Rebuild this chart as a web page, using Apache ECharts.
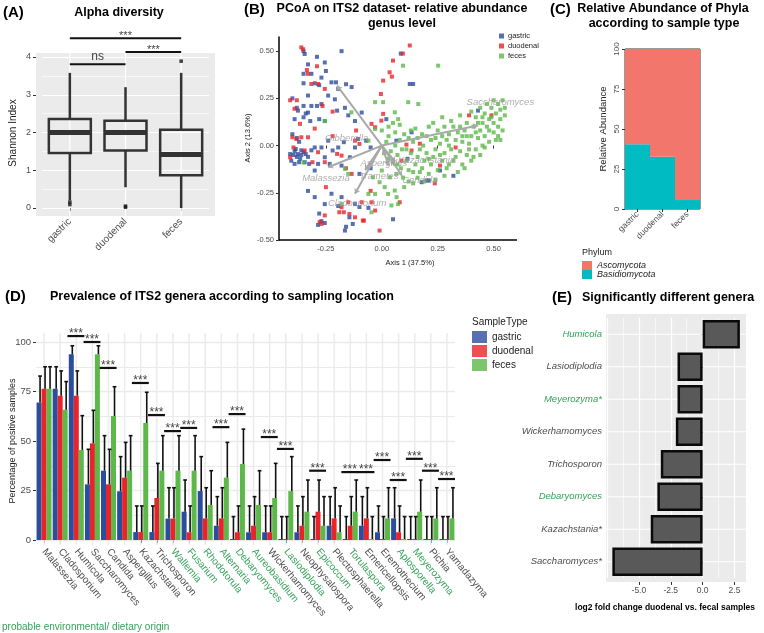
<!DOCTYPE html>
<html>
<head>
<meta charset="utf-8">
<script src="https://cdn.jsdelivr.net/npm/echarts@6/dist/echarts.min.js"></script>
<style>
  html, body { margin: 0; padding: 0; background: #fff; }
  #chart { width: 764px; height: 633px; }
</style>
</head>
<body>
<div id="chart"></div>
<script>
const FONT = '"Liberation Sans", Arial, Helvetica, sans-serif';
const BLUE = '#2c4c9d', RED = '#e8232a', GREEN = '#5db84a';
const TXT_GREY = '#4d4d4d', ENV_GREEN = '#35a35a';
const BAR_GAP = 0.07;

// (A) alpha diversity
const alphaGroups = ['gastric', 'duodenal', 'feces'];
// low whisker, Q1, median, Q3, high whisker
const alphaBoxes = [
  [0.21, 1.46, 2.0, 2.36, 3.58],
  [0.55, 1.52, 2.0, 2.31, 3.2],
  [0.0, 0.87, 1.42, 2.07, 3.58],
];
const alphaOutliers = [[0, 0.16], [0, 0.09], [1, 0.02], [1, 0.05], [2, 3.89]];
const alphaSigFrom = [0, 1, 0];
const alphaSigTo = [1, 2, 2];
const alphaSigY = [3.81, 4.13, 4.5];
const alphaSigText = ['ns', '***', '***'];

// (B) PCoA
const pcoaGastric = [
  [-0.35,0.50],[-0.345,0.485],[-0.33,0.43],[-0.29,0.47],[-0.255,0.44],[-0.25,0.395],[-0.315,0.38],[-0.35,0.38],[-0.27,0.36],[-0.18,0.50],
  [-0.35,0.33],[-0.30,0.33],[-0.28,0.32],[-0.225,0.335],[-0.205,0.335],[-0.16,0.325],[-0.135,0.31],[-0.195,0.30],[-0.33,0.265],[-0.24,0.265],
  [-0.21,0.245],[-0.27,0.22],[-0.315,0.21],[-0.29,0.21],[-0.35,0.21],[-0.40,0.25],[-0.38,0.20],[-0.375,0.185],[-0.34,0.17],[-0.33,0.175],
  [-0.39,0.14],[-0.35,0.15],[-0.32,0.13],[-0.28,0.14],[-0.255,0.13],[-0.20,0.185],[-0.165,0.20],[-0.12,0.13],[-0.09,0.175],[-0.15,0.16],
  [-0.41,-0.045],[-0.395,-0.05],[-0.39,-0.03],[-0.38,-0.06],[-0.375,-0.045],[-0.365,-0.07],[-0.36,-0.05],[-0.35,-0.035],[-0.37,-0.088],[-0.39,-0.097],
  [-0.345,-0.088],[-0.33,-0.06],[-0.315,-0.025],[-0.30,-0.01],[-0.405,-0.08],[-0.385,-0.018],[-0.36,-0.025],[-0.34,-0.045],[-0.325,-0.097],[-0.37,0.02],
  [-0.40,0.06],[-0.38,0.04],[-0.27,-0.01],[-0.24,0.026],[-0.255,-0.062],[-0.22,-0.026],[-0.195,-0.01],[-0.17,0.018],[-0.285,-0.097],[-0.30,-0.132],
  [-0.233,-0.097],[-0.18,-0.106],[-0.143,-0.062],[-0.12,-0.01],[-0.106,0.035],[-0.07,0.026],[-0.05,-0.01],[-0.10,-0.15],[-0.05,-0.12],
  [-0.33,-0.24],[-0.30,-0.273],[-0.255,-0.31],[-0.28,-0.36],[-0.27,-0.40],[-0.255,-0.41],[-0.285,-0.42],[-0.18,-0.273],[-0.165,-0.45],[-0.16,-0.43],
  [-0.145,-0.38],[-0.13,-0.415],[-0.12,-0.31],[-0.10,-0.325],[-0.195,-0.32],[-0.225,-0.255],[-0.06,-0.33],
  [0.085,0.487],[0.125,0.326],[0.14,0.326],[0.133,0.07],[0.2,-0.185],[0.178,-0.194],[0.43,0.185],[0.05,-0.39],[0.065,0.026],[0.115,-0.07],
  [0.26,-0.132],[0.21,-0.185],[0.02,0.14],[0.32,-0.16]
];
const pcoaDuodenal = [
  [-0.36,0.52],[-0.352,0.51],[-0.29,0.42],[-0.335,0.40],[-0.33,0.38],[-0.285,0.326],[-0.255,0.30],[-0.315,0.326],[-0.38,0.24],[-0.41,0.24],
  [-0.39,0.195],[-0.366,0.115],[-0.40,0.044],[-0.395,-0.01],[-0.41,-0.062],[-0.382,0.035],[-0.36,0.044],[-0.33,0.044],[-0.285,-0.035],[-0.31,-0.088],
  [-0.255,-0.088],[-0.345,-0.026],[-0.20,-0.044],[-0.18,-0.053],[-0.12,0.026],[-0.10,0.009],[-0.135,-0.15],[-0.115,0.08],[-0.046,0.115],[-0.03,0.097],
  [0.05,0.45],[0.094,0.487],[0.125,0.53],[0.045,0.365],[0.035,0.388],[0.006,0.344],[-0.004,0.273],[0.006,0.168],[-0.002,0.132],[0.11,0.005],
  [0.133,-0.026],[-0.25,-0.22],[-0.18,-0.326],[-0.19,-0.353],[-0.17,-0.353],[-0.145,-0.362],[-0.12,-0.38],[-0.085,-0.397],[-0.08,-0.397],[-0.255,-0.37],
  [-0.278,-0.405],[-0.27,-0.415],[-0.15,-0.30],[-0.09,-0.30],[-0.045,-0.30],[-0.01,-0.45],[-0.03,-0.344],[0.237,-0.2],[0.26,-0.106],[0.08,-0.30],
  [0.088,-0.08],[0.33,-0.01],[0.39,0.16],[0.49,0.16],[-0.22,0.05],[-0.16,-0.12],[-0.22,0.18],[-0.05,-0.24],[0.17,0.01],[-0.265,0.21],[-0.3,0.09]
];
const pcoaFeces = [
  [-0.35,-0.09],[-0.255,0.13],[-0.136,0.176],[-0.03,0.23],[0.006,0.23],[-0.165,-0.123],[-0.15,-0.15],[-0.18,-0.31],[-0.06,-0.256],[-0.046,-0.353],
  [-0.03,-0.256],[0.013,-0.22],[0.028,-0.256],[0.058,-0.238],[0.066,-0.273],[0.073,-0.31],[0.043,-0.317],[0.095,0.423],[0.252,0.423],[0.058,0.176],
  [0.073,0.14],[0.118,0.23],[0.163,0.22],[-0.03,0.088],[-0.06,0.026],[-0.04,-0.168],[-0.01,-0.194],[0.0,-0.132],[0.036,-0.168],
  [0.02,0.02],[0.04,-0.03],[0.03,0.05],[0.06,0.0],[0.07,-0.05],[0.05,-0.09],[0.08,0.03],[0.09,-0.02],[0.1,0.06],[0.11,-0.08],
  [0.085,-0.12],[0.065,-0.15],[0.095,-0.17],[0.12,-0.13],[0.13,-0.04],[0.14,0.02],[0.15,-0.1],[0.16,-0.06],[0.13,0.08],[0.16,0.04],
  [0.17,-0.02],[0.18,-0.12],[0.19,-0.08],[0.2,-0.04],[0.185,0.0],[0.2,0.05],[0.21,-0.15],[0.22,-0.1],[0.23,-0.06],[0.24,-0.02],
  [0.22,0.03],[0.25,0.08],[0.26,0.01],[0.27,-0.08],[0.25,-0.13],[0.28,-0.04],[0.29,0.03],[0.3,-0.1],[0.3,0.06],[0.31,-0.02],
  [0.32,0.1],[0.33,-0.06],[0.33,0.03],[0.34,0.07],[0.35,-0.03],[0.36,0.02],[0.36,-0.1],[0.37,0.08],[0.38,-0.05],[0.38,0.12],
  [0.39,0.01],[0.4,0.05],[0.4,-0.08],[0.41,0.1],[0.42,-0.02],[0.42,0.15],[0.43,0.04],[0.44,0.08],[0.44,-0.05],[0.45,0.12],
  [0.45,0.0],[0.46,0.17],[0.46,0.05],[0.47,0.1],[0.48,0.02],[0.48,0.14],[0.49,0.2],[0.5,0.07],[0.5,0.12],[0.51,0.17],
  [0.51,0.03],[0.52,0.22],[0.52,0.1],[0.53,0.14],[0.53,0.19],[0.54,0.08],[0.54,0.24],[0.55,0.16],[0.55,0.2],[0.35,0.16],
  [0.31,0.13],[0.28,0.1],[0.23,0.12],[0.27,0.15],[0.4,0.18],[0.44,0.2],[0.47,0.22],[0.5,0.24],[0.49,0.15],[0.41,-0.06],
  [0.37,-0.12],[0.34,-0.14],[0.28,-0.16],[0.24,-0.18],[0.19,-0.19],[0.16,-0.17],[0.14,-0.2],[0.12,-0.19],[0.1,-0.22],[0.07,-0.1],
  [0.03,-0.07],[0.01,-0.04],[0.0,0.08],[0.03,0.1],[0.06,0.07],[0.12,0.04],[0.15,0.09],[0.18,0.06],[0.21,0.1],[0.26,-0.05],
  [0.29,-0.12],[0.32,-0.08],[0.35,0.1],[0.38,0.05],[0.43,0.12],[0.46,-0.01],[0.52,0.05],[0.48,0.08],[0.17,-0.14],[0.21,-0.07],
  [0.24,0.04],[0.11,-0.02],[0.08,0.11],[0.05,0.12],[0.14,-0.14],[0.36,0.05],[0.3,0.0],[0.27,0.05],[0.39,-0.02],[0.42,0.07],
  [0.45,0.15],[0.53,0.03]
];
const loadingGenera = ['Gibberella', 'Malassezia', 'Cladosporium', 'Trametes', 'Aspergillus', 'Kazachstania', 'Candida', 'Saccharomyces'];
const loadingTips = [[-0.2,0.317],[-0.24,-0.115],[-0.12,-0.255],[-0.075,-0.13],[0.03,-0.105],[0.06,-0.085],[0.09,-0.16],[0.43,0.106]];
const loadingLabelPos = [[-0.157,0.037],[-0.25,-0.175],[-0.11,-0.307],[-0.013,-0.164],[0.009,-0.095],[0.2,-0.08],[0.17,-0.185],[0.53,0.228]];

// (C) phyla
const phylaGroups = ['gastric', 'duodenal', 'feces'];
const basidiomycota = [40.4, 32.7, 5.6];
const ascomycota = [59.6, 67.3, 94.4];

// (D) prevalence
const genera = ['Malassezia','Cladosporium','Humicola','Saccharomyces','Candida','Aspergillus','Kazachstania','Trichosporon',
  'Wallemia','Fusarium','Rhodotorula','Alternaria','Debaryomyces','Aureobasidium','Wickerhamomyces','Lasiodiplodia',
  'Neophysalospora','Epicoccum','Plectosphaerella','Torulaspora','Emericellopsis','Eremothecium','Aplosporella','Meyerozyma','Pichia','Yamadazyma'];
const envGenera = ['Wallemia','Fusarium','Rhodotorula','Alternaria','Debaryomyces','Aureobasidium','Lasiodiplodia','Epicoccum','Torulaspora','Aplosporella','Meyerozyma'];
const gastricPct = [69.4, 76.4, 93.8, 28.1, 35.0, 24.6, 4.0, 4.0, 10.8, 14.3, 24.7, 7.2, 0.5, 3.9, 3.9, 0.5, 3.9, 0.5, 7.2, 0.5, 7.2, 3.9, 10.9, 0.5, 0.5, 0.5];
const gastricUpper = [82.8, 87.5, 98.1, 45.8, 52.7, 42.1, 17.2, 17.2, 26.4, 30.3, 42.1, 21.9, 11.8, 17.2, 17.2, 11.8, 17.2, 11.8, 21.9, 11.8, 21.9, 17.2, 26.4, 11.8, 11.8, 11.8];
const duodenalPct = [76.4, 72.9, 72.9, 48.8, 28.1, 31.5, 4.0, 21.2, 10.8, 3.9, 10.9, 10.9, 3.9, 7.2, 3.9, 0.5, 7.2, 14.3, 10.9, 7.2, 10.9, 0.5, 3.9, 0.5, 0.5, 0.5];
const duodenalUpper = [87.5, 85.4, 85.4, 65.5, 45.8, 49.3, 17.2, 38.7, 26.4, 17.2, 26.4, 26.4, 17.2, 21.9, 17.2, 11.8, 21.9, 30.3, 26.4, 21.9, 26.4, 11.8, 17.2, 11.8, 11.8, 11.8];
const fecesPct = [76.4, 65.8, 45.5, 93.8, 62.6, 35.0, 59.1, 35.0, 35.0, 35.0, 17.7, 31.5, 38.4, 17.7, 21.2, 24.7, 14.3, 7.2, 3.9, 14.3, 0.5, 10.9, 0.5, 14.3, 10.9, 10.9];
const fecesUpper = [87.5, 80.0, 62.8, 98.1, 77.4, 52.7, 74.6, 52.7, 52.7, 52.7, 35.0, 49.3, 56.0, 35.0, 38.7, 42.1, 30.3, 21.9, 17.2, 30.3, 11.8, 26.4, 11.8, 30.3, 26.4, 26.4];
const sigGenera = ['Humicola','Saccharomyces','Candida','Kazachstania','Trichosporon','Wallemia','Fusarium','Alternaria','Debaryomyces',
  'Wickerhamomyces','Lasiodiplodia','Epicoccum','Torulaspora','Emericellopsis','Eremothecium','Aplosporella','Meyerozyma','Pichia','Yamadazyma'];
const sigHeight = [103, 100, 86.9, 79.3, 63.1, 55, 56.6, 57, 63.6, 52, 46, 35, 34.3, 34.3, 40.4, 30.3, 41, 35, 30.8];

// (E) log2 fold change, bottom to top
const diffGenera = ['Saccharomyces*','Kazachstania*','Debaryomyces','Trichosporon','Wickerhamomyces','Meyerozyma*','Lasiodiplodia','Humicola'];
const diffLog2FC = [-7.08, -4.07, -3.55, -3.28, -2.1, -1.97, -1.97, 2.92];
const diffGreen = ['Debaryomyces', 'Meyerozyma*', 'Humicola'];

const chart = echarts.init(document.getElementById('chart'));

function txt(text, x, y, size, opts) {
  const o = opts || {};
  return {
    type: 'text', x, y, z: 50, silent: true, rotation: o.vertical ? Math.PI / 2 : 0,
    style: {
      text, fill: o.color || '#000',
      font: `${o.italic ? 'italic ' : ''}${o.bold ? 'bold ' : ''}${size}px ${FONT}`,
      align: o.align || 'left', verticalAlign: 'middle'
    }
  };
}

function vGrid(color, width, extTop, extBottom) {
  return function (params, api) {
    const cs = params.coordSys;
    const x = api.coord([api.value(0), 0])[0];
    return { type: 'line', silent: true, shape: { x1: x, y1: cs.y - extTop, x2: x, y2: cs.y + cs.height + extBottom },
      style: { stroke: color, lineWidth: width } };
  };
}

// whiskers and heavy median; the box body itself is a boxplot series
function renderWhisker(params, api) {
  const i = api.value(0);
  const lo = api.coord([i, api.value(1)]);
  const q1 = api.coord([i, api.value(2)]);
  const med = api.coord([i, api.value(3)]);
  const q3 = api.coord([i, api.value(4)]);
  const hi = api.coord([i, api.value(5)]);
  const w = api.size([1, 0])[0] * 0.75;
  const x = lo[0];
  const seg = (x1, y1, x2, y2, lw) => ({ type: 'line', shape: { x1, y1, x2, y2 }, style: { stroke: '#333', lineWidth: lw } });
  return { type: 'group', children: [
    seg(x, lo[1], x, q1[1], 2.5),
    seg(x, q3[1], x, hi[1], 2.5),
    seg(x - w / 2, med[1], x + w / 2, med[1], 5),
  ]};
}

function renderAlphaSig(params, api) {
  const a = api.coord([api.value(0), api.value(2)]);
  const b = api.coord([api.value(1), api.value(2)]);
  const label = alphaSigText[params.dataIndex];
  return { type: 'group', children: [
    { type: 'line', shape: { x1: a[0], y1: a[1], x2: b[0], y2: b[1] }, style: { stroke: '#111', lineWidth: 2 } },
    { type: 'text', x: (a[0] + b[0]) / 2, y: a[1] + (label === 'ns' ? -1 : 3),
      style: { text: label, fill: '#444', font: `${label === 'ns' ? 12 : 11}px ${FONT}`, align: 'center', verticalAlign: 'bottom' } },
  ]};
}

function errorBar(slot) {
  return function (params, api) {
    const band = api.size([1, 0])[0];
    const w = band * (1 - BAR_GAP) / 3;
    const base = api.coord([api.value(0), api.value(1)]);
    const top = api.coord([api.value(0), api.value(2)]);
    const x = base[0] + (slot - 1) * w + w * 0.2;
    const cap = w * 0.75;
    const st = { stroke: '#111', lineWidth: 1.6 };
    return { type: 'group', children: [
      { type: 'line', shape: { x1: x, y1: base[1], x2: x, y2: top[1] }, style: st },
      { type: 'line', shape: { x1: x - cap / 2, y1: top[1], x2: x + cap / 2, y2: top[1] }, style: st },
    ]};
  };
}

function renderSig(params, api) {
  const band = api.size([1, 0])[0];
  const p = api.coord([api.value(0), api.value(1)]);
  const x1 = p[0] - band * 0.55, x2 = p[0] + band * 0.5;
  return { type: 'group', children: [
    { type: 'line', shape: { x1, y1: p[1], x2, y2: p[1] }, style: { stroke: '#111', lineWidth: 2.2 } },
    { type: 'text', x: (x1 + x2) / 2, y: p[1] + 4,
      style: { text: '***', fill: '#444', font: `12px ${FONT}`, align: 'center', verticalAlign: 'bottom' } },
  ]};
}

function hGrid(params, api) {
  const cs = params.coordSys;
  const y = api.coord([0, api.value(1)])[1];
  return { type: 'line', silent: true, shape: { x1: cs.x - 1, y1: y, x2: cs.x + cs.width + 1, y2: y },
    style: { stroke: '#fff', lineWidth: 1.2 } };
}

const tick = (len) => ({ show: true, length: len, lineStyle: { color: '#333', width: 1 } });
const noLine = { show: false };

const option = {
  animation: false,
  textStyle: { fontFamily: FONT },
  grid: [
    { left: 42, top: 57, width: 167, height: 151, outerBoundsMode: 'none', containLabel: false },
    { left: 270, top: 37, width: 246, height: 203, outerBoundsMode: 'none', containLabel: false },
    { left: 625, top: 49, width: 75, height: 160, show: true, borderColor: '#333', borderWidth: 1, backgroundColor: 'transparent', outerBoundsMode: 'none', containLabel: false },
    { left: 36, top: 342, width: 419, height: 198, outerBoundsMode: 'none', containLabel: false },
    { left: 607, top: 318, width: 139, height: 260, outerBoundsMode: 'none', containLabel: false },
  ],
  xAxis: [
    { gridIndex: 0, type: 'category', data: alphaGroups, offset: 8, axisLine: noLine, axisTick: Object.assign(tick(3), { alignWithLabel: true }),
      axisLabel: { rotate: 45, interval: 0, color: TXT_GREY, fontSize: 10, margin: 4 }, splitLine: noLine, splitArea: noLine },
    { gridIndex: 1, type: 'value', min: -0.5, max: 0.6, interval: 0.25, axisLine: noLine,
      axisTick: tick(3), axisLabel: { color: TXT_GREY, fontSize: 7.5, margin: 5, showMinLabel: false, showMaxLabel: false,
        formatter: (v) => v.toFixed(2) }, splitLine: noLine },
    { gridIndex: 2, type: 'category', data: phylaGroups, axisLine: noLine, axisTick: Object.assign(tick(3), { alignWithLabel: true }),
      axisLabel: { rotate: 45, interval: 0, color: TXT_GREY, fontSize: 8.5, margin: 4 }, splitLine: noLine },
    { gridIndex: 3, type: 'category', data: genera, offset: 5, axisLine: noLine, axisTick: Object.assign(tick(3), { alignWithLabel: true }),
      axisLabel: { rotate: -50, interval: 0, margin: 5, fontSize: 10,
        formatter: (v) => envGenera.includes(v) ? `{env|${v}}` : `{std|${v}}`,
        rich: { env: { color: ENV_GREEN, fontSize: 10 }, std: { color: TXT_GREY, fontSize: 10 } } },
      splitLine: noLine },
    { gridIndex: 4, type: 'value', min: -7.5, max: 3.4, interval: 2.5, offset: 4, axisLine: noLine, axisTick: tick(3),
      axisLabel: { color: TXT_GREY, fontSize: 8.5, margin: 4, showMinLabel: false, showMaxLabel: false, formatter: (v) => v.toFixed(1) },
      splitLine: { show: true, lineStyle: { color: '#fff', width: 1.2 } },
      minorTick: { show: false, splitNumber: 2 }, minorSplitLine: { show: true, lineStyle: { color: '#fff', width: 0.6 } } },
  ],
  yAxis: [
    { gridIndex: 0, type: 'value', min: 0, max: 4, interval: 1, offset: 6, axisLine: noLine, axisTick: tick(3),
      axisLabel: { color: TXT_GREY, fontSize: 9, margin: 5 },
      splitLine: { show: true, lineStyle: { color: '#fff', width: 1.2 } }, splitArea: noLine,
      minorTick: { show: false, splitNumber: 2 }, minorSplitLine: { show: true, lineStyle: { color: '#fff', width: 0.6 } } },
    { gridIndex: 1, type: 'value', min: -0.5, max: 0.575, interval: 0.25, offset: -9,
      axisLine: { show: true, onZero: false, lineStyle: { color: '#000', width: 1.5 } }, axisTick: tick(3),
      axisLabel: { color: TXT_GREY, fontSize: 7.5, margin: 5, showMaxLabel: false, formatter: (v) => v.toFixed(2) },
      splitLine: noLine },
    { gridIndex: 2, type: 'value', min: 0, max: 100, interval: 25, axisLine: noLine, axisTick: tick(3),
      axisLabel: { rotate: 90, color: TXT_GREY, fontSize: 8, margin: 4 }, splitLine: noLine },
    { gridIndex: 3, type: 'value', min: 0, max: 100, interval: 25, axisLine: noLine, axisTick: tick(3),
      axisLabel: { color: TXT_GREY, fontSize: 9.5, margin: 5 },
      splitLine: { show: true, lineStyle: { color: '#ebebeb', width: 1.3 } },
      minorTick: { show: false, splitNumber: 2 }, minorSplitLine: { show: true, lineStyle: { color: '#ebebeb', width: 1 } } },
    { gridIndex: 4, type: 'category', data: diffGenera, axisLine: noLine, axisTick: Object.assign(tick(2), { alignWithLabel: true }),
      axisLabel: { margin: 5, fontSize: 9.5, fontStyle: 'italic',
        formatter: (v) => diffGreen.includes(v) ? `{env|${v}}` : `{std|${v}}`,
        rich: { env: { color: ENV_GREEN, fontSize: 9.5, fontStyle: 'italic' }, std: { color: TXT_GREY, fontSize: 9.5, fontStyle: 'italic' } } },
      splitLine: noLine },
  ],
  legend: [
    { data: ['gastric', 'duodenal', 'feces'], left: 499, top: 32, padding: 0, orient: 'vertical', icon: 'rect', itemWidth: 5, itemHeight: 5,
      itemGap: 2, selectedMode: false, textStyle: { fontSize: 7.5, color: '#222', padding: [0, 0, 0, -1] } },
    { data: ['Ascomycota', 'Basidiomycota'], left: 582, top: 261, padding: 0, orient: 'vertical', icon: 'rect', itemWidth: 10, itemHeight: 9,
      itemGap: 0, selectedMode: false, textStyle: { fontSize: 9, fontStyle: 'italic', color: '#222', lineHeight: 9 } },
    { data: ['gastric', 'duodenal', 'feces'], left: 472, top: 331, padding: 0, orient: 'vertical', icon: 'rect', itemWidth: 15, itemHeight: 12,
      itemGap: 2, selectedMode: false, textStyle: { fontSize: 10, color: '#222' } },
  ],
  graphic: [
    { type: 'rect', z: -10, silent: true, shape: { x: 36, y: 53, width: 179, height: 163 }, style: { fill: '#ebebeb' } },
    { type: 'rect', z: -10, silent: true, shape: { x: 606, y: 314, width: 140, height: 268 }, style: { fill: '#ebebeb' } },
    { type: 'line', z: 10, silent: true, shape: { x1: 279, y1: 240, x2: 517, y2: 240 }, style: { stroke: '#000', lineWidth: 1.5 } },
    txt('(A)', 3, 13, 15, { bold: true }),
    txt('Alpha diversity', 119, 13, 12.5, { bold: true, align: 'center' }),
    txt('Shannon Index', 13, 133, 10, { color: '#222', align: 'center', vertical: true }),
    txt('(B)', 244, 10, 15, { bold: true }),
    txt('PCoA on ITS2 dataset- relative abundance', 402, 9, 12.5, { bold: true, align: 'center' }),
    txt('genus level', 402, 24, 12.5, { bold: true, align: 'center' }),
    txt('Axis 1 (37.5%)', 410, 263, 7.5, { color: '#222', align: 'center' }),
    txt('Axis 2 (13.6%)', 248, 138, 7.5, { color: '#222', align: 'center', vertical: true }),
    txt('(C)', 550, 10, 15, { bold: true }),
    txt('Relative Abundance of Phyla', 663, 9, 12.5, { bold: true, align: 'center' }),
    txt('according to sample type', 664, 24, 12.5, { bold: true, align: 'center' }),
    txt('Relative Abundance', 603, 129, 9.5, { color: '#222', align: 'center', vertical: true }),
    txt('Phylum', 582, 253, 9, { color: '#222' }),
    txt('(D)', 5, 297, 15, { bold: true }),
    txt('Prevalence of ITS2 genera according to sampling location', 50, 297, 12.5, { bold: true }),
    txt('Percentage of positive samples', 13, 441, 9, { color: '#222', align: 'center', vertical: true }),
    txt('SampleType', 472, 322, 10, { color: '#222' }),
    txt('(E)', 552, 298, 15, { bold: true }),
    txt('Significantly different genera', 582, 298, 12.5, { bold: true }),
    txt('log2 fold change duodenal vs. fecal samples', 665, 608, 8.5, { bold: true, align: 'center' }),
    txt('probable environmental/ dietary origin', 2, 627, 10, { color: ENV_GREEN }),
  ],
  series: [
    // (A)
    { type: 'custom', xAxisIndex: 0, yAxisIndex: 0, z: 1, silent: true, clip: false, renderItem: vGrid('#fff', 1.2, 4, 8),
      data: alphaGroups.map((g, i) => [i, 0]), encode: { x: 0, y: 1 } },
    { type: 'boxplot', xAxisIndex: 0, yAxisIndex: 0, z: 3, silent: true, boxWidth: [42, 42],
      itemStyle: { color: 'rgba(0,0,0,0)', borderColor: '#333', borderWidth: 2.5 },
      emphasis: { disabled: true },
      data: alphaBoxes.map((b) => [b[1], b[1], b[2], b[3], b[3]]) },
    { type: 'custom', xAxisIndex: 0, yAxisIndex: 0, z: 4, silent: true, renderItem: renderWhisker,
      data: alphaBoxes.map((b, i) => [i].concat(b)), encode: { x: 0, y: [1, 2, 3, 4, 5] } },
    { type: 'scatter', xAxisIndex: 0, yAxisIndex: 0, z: 4, symbol: 'rect', symbolSize: 3.5, itemStyle: { color: '#111' },
      data: alphaOutliers },
    { type: 'custom', xAxisIndex: 0, yAxisIndex: 0, z: 4, clip: false, renderItem: renderAlphaSig,
      data: alphaSigY.map((y, i) => [alphaSigFrom[i], alphaSigTo[i], y]), encode: { x: [0, 1], y: 2 } },

    // (B)
    { name: 'gastric', type: 'scatter', xAxisIndex: 1, yAxisIndex: 1, symbol: 'rect', symbolSize: 4, itemStyle: { color: BLUE }, data: pcoaGastric },
    { name: 'duodenal', type: 'scatter', xAxisIndex: 1, yAxisIndex: 1, symbol: 'rect', symbolSize: 4, itemStyle: { color: RED }, data: pcoaDuodenal },
    { name: 'feces', type: 'scatter', xAxisIndex: 1, yAxisIndex: 1, symbol: 'rect', symbolSize: 4, itemStyle: { color: GREEN }, data: pcoaFeces },
    { type: 'lines', coordinateSystem: 'cartesian2d', xAxisIndex: 1, yAxisIndex: 1, z: 5, silent: true,
      symbol: ['none', 'arrow'], symbolSize: 5, lineStyle: { color: '#a9a9a9', width: 2, opacity: 1 },
      data: loadingTips.map((t) => ({ coords: [[0, 0], t] })) },
    { type: 'scatter', xAxisIndex: 1, yAxisIndex: 1, z: 6, silent: true, symbolSize: 1, clip: false,
      itemStyle: { color: 'rgba(0,0,0,0)' }, labelLayout: { hideOverlap: false },
      label: { show: true, position: 'inside', formatter: '{b}', color: '#9a9a9a', fontSize: 9.5, fontStyle: 'italic' },
      data: loadingLabelPos.map((p, i) => ({ name: loadingGenera[i], value: p })) },

    // (C)
    { name: 'Basidiomycota', type: 'bar', stack: 'phy', xAxisIndex: 2, yAxisIndex: 2, barCategoryGap: '0%', itemStyle: { color: '#00bcc2' }, data: basidiomycota },
    { name: 'Ascomycota', type: 'bar', stack: 'phy', xAxisIndex: 2, yAxisIndex: 2, barCategoryGap: '0%', itemStyle: { color: '#f2766c' }, data: ascomycota },

    // (D)
    { type: 'custom', xAxisIndex: 3, yAxisIndex: 3, z: 1, silent: true, clip: false, renderItem: vGrid('#ebebeb', 1.5, 9, 5),
      data: genera.map((g, i) => [i, 0]), encode: { x: 0, y: 1 } },
    { name: 'gastric', type: 'bar', xAxisIndex: 3, yAxisIndex: 3, z: 2, barGap: '0%', barCategoryGap: (BAR_GAP * 100) + '%', itemStyle: { color: BLUE }, data: gastricPct },
    { name: 'duodenal', type: 'bar', xAxisIndex: 3, yAxisIndex: 3, z: 2, barGap: '0%', barCategoryGap: (BAR_GAP * 100) + '%', itemStyle: { color: RED }, data: duodenalPct },
    { name: 'feces', type: 'bar', xAxisIndex: 3, yAxisIndex: 3, z: 2, barGap: '0%', barCategoryGap: (BAR_GAP * 100) + '%', itemStyle: { color: GREEN }, data: fecesPct },
    { type: 'custom', xAxisIndex: 3, yAxisIndex: 3, z: 3, clip: false, renderItem: errorBar(0),
      data: genera.map((g, i) => [i, gastricPct[i], gastricUpper[i]]), encode: { x: 0, y: [1, 2] } },
    { type: 'custom', xAxisIndex: 3, yAxisIndex: 3, z: 3, clip: false, renderItem: errorBar(1),
      data: genera.map((g, i) => [i, duodenalPct[i], duodenalUpper[i]]), encode: { x: 0, y: [1, 2] } },
    { type: 'custom', xAxisIndex: 3, yAxisIndex: 3, z: 3, clip: false, renderItem: errorBar(2),
      data: genera.map((g, i) => [i, fecesPct[i], fecesUpper[i]]), encode: { x: 0, y: [1, 2] } },
    { type: 'custom', xAxisIndex: 3, yAxisIndex: 3, z: 4, clip: false, renderItem: renderSig,
      data: sigGenera.map((g, i) => [genera.indexOf(g), sigHeight[i]]), encode: { x: 0, y: 1 } },

    // (E)
    { type: 'custom', xAxisIndex: 4, yAxisIndex: 4, z: 1, silent: true, clip: false, renderItem: hGrid,
      data: diffGenera.map((g, i) => [0, i]), encode: { x: 0, y: 1 } },
    { type: 'bar', xAxisIndex: 4, yAxisIndex: 4, z: 2, barWidth: '88%',
      itemStyle: { color: '#595959', borderColor: '#0a0a0a', borderWidth: 2.5 }, data: diffLog2FC },
  ],
};

chart.setOption(option);
</script>
</body>
</html>
